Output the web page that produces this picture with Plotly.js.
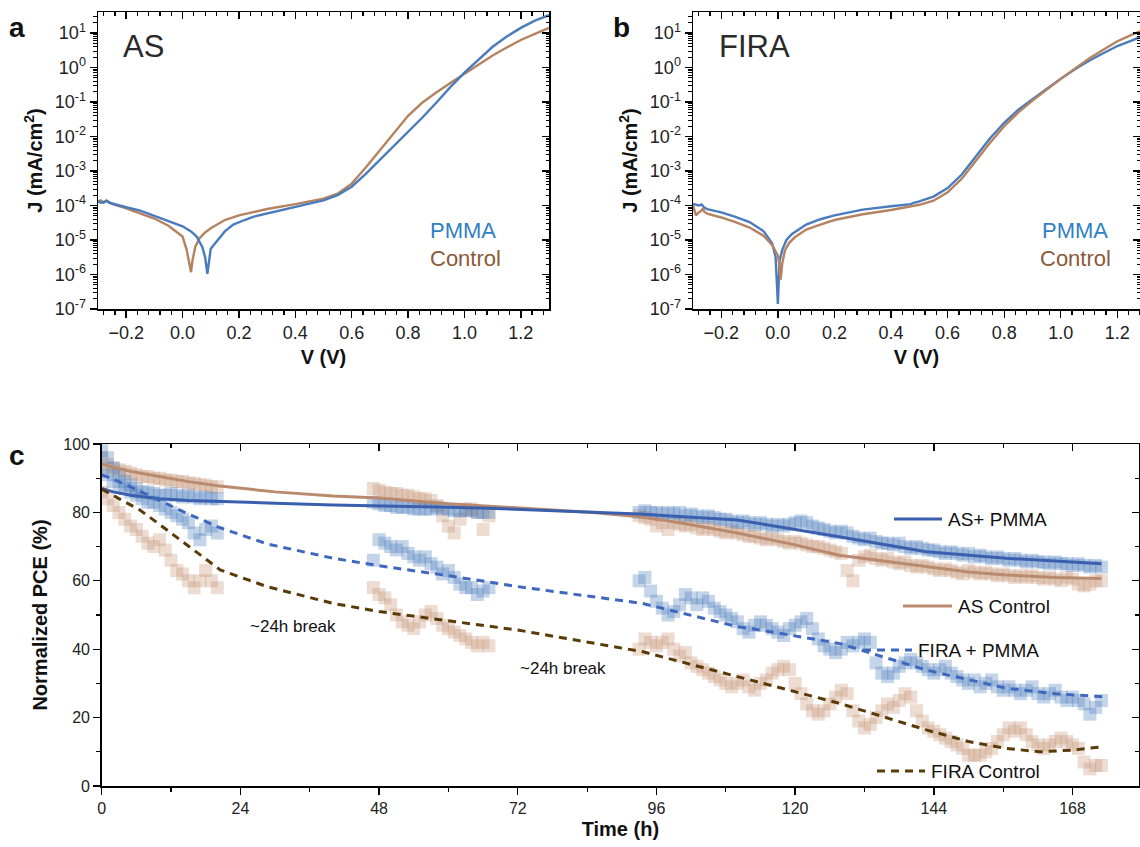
<!DOCTYPE html>
<html><head><meta charset="utf-8">
<script src="https://cdn.plot.ly/plotly-3.0.1.min.js"></script>
<style>html,body{margin:0;padding:0;background:#fff}#chart{width:1140px;height:847px}</style>
</head><body><div id="chart"></div>
<script>
// ---------- Panel a (AS) : J-V dark curves ----------
const aPmmaV = [-0.30,-0.29,-0.28,-0.27,-0.26,-0.25,-0.20,-0.15,-0.10,-0.05,0.00,0.03,0.05,0.07,0.08,0.088,0.095,0.10,0.12,0.15,0.18,0.20,0.22,0.25,0.30,0.40,0.50,0.55,0.60,0.65,0.70,0.75,0.80,0.85,0.90,0.95,1.00,1.05,1.10,1.15,1.20,1.25,1.30];
const aPmmaJ = [1.32e-4,1.2e-4,1.26e-4,1.38e-4,1.2e-4,1.15e-4,8.9e-5,7.1e-5,5.0e-5,3.6e-5,2.5e-5,1.78e-5,1.26e-5,6.3e-6,3.2e-6,1.05e-6,2.5e-6,5.6e-6,8.9e-6,1.78e-5,2.8e-5,3.3e-5,3.8e-5,4.7e-5,5.8e-5,8.9e-5,1.41e-4,2.0e-4,3.5e-4,8.3e-4,2.1e-3,5.2e-3,1.32e-2,3.5e-2,9.5e-2,0.27,0.71,1.74,4.0,7.9,14.1,22.9,33];
const aCtrlV = [-0.30,-0.29,-0.28,-0.27,-0.26,-0.25,-0.20,-0.15,-0.10,-0.05,0.00,0.015,0.025,0.03,0.035,0.045,0.06,0.08,0.10,0.15,0.20,0.30,0.40,0.50,0.55,0.60,0.65,0.70,0.75,0.80,0.85,0.90,0.95,1.00,1.05,1.10,1.15,1.20,1.25,1.30];
const aCtrlJ = [1.32e-4,1.41e-4,1.2e-4,1.38e-4,1.26e-4,1.12e-4,8.3e-5,6.0e-5,4.2e-5,2.6e-5,1.26e-5,5.0e-6,2.0e-6,1.17e-6,2.5e-6,6.3e-6,1.12e-5,1.66e-5,2.2e-5,3.8e-5,5.2e-5,7.9e-5,1.1e-4,1.58e-4,2.2e-4,4.3e-4,1.26e-3,4.0e-3,1.32e-2,4.0e-2,9.5e-2,0.19,0.355,0.66,1.2,2.24,3.8,6.3,9.5,14.1];

// ---------- Panel b (FIRA) ----------
const bPmmaV = [-0.30,-0.29,-0.28,-0.27,-0.26,-0.25,-0.20,-0.15,-0.10,-0.05,-0.02,-0.008,0.0,0.006,0.015,0.03,0.05,0.10,0.15,0.20,0.30,0.40,0.47,0.48,0.50,0.55,0.60,0.65,0.70,0.75,0.80,0.85,0.90,0.95,1.00,1.05,1.10,1.15,1.20,1.25,1.28];
const bPmmaJ = [1.12e-4,1.05e-4,1.0e-4,1.07e-4,8.7e-5,7.9e-5,6.3e-5,4.7e-5,3.3e-5,1.78e-5,7.9e-6,3.2e-6,1.4e-7,2.5e-6,5.0e-6,1.0e-5,1.5e-5,2.8e-5,4.0e-5,5.2e-5,7.6e-5,9.5e-5,1.1e-4,1.2e-4,1.32e-4,1.82e-4,3.2e-4,7.9e-4,2.6e-3,8.9e-3,2.5e-2,6.0e-2,0.12,0.24,0.47,0.89,1.58,2.6,4.2,6.0,7.6];
const bCtrlV = [-0.30,-0.295,-0.29,-0.28,-0.27,-0.265,-0.26,-0.25,-0.20,-0.15,-0.10,-0.05,-0.02,0.0,0.005,0.01,0.015,0.025,0.04,0.06,0.10,0.15,0.20,0.30,0.40,0.50,0.55,0.60,0.65,0.70,0.75,0.80,0.85,0.90,0.95,1.00,1.05,1.10,1.15,1.20,1.25,1.28];
const bCtrlJ = [1.05e-4,7.1e-5,5.2e-5,6.3e-5,7.1e-5,8.3e-5,6.6e-5,5.8e-5,4.5e-5,3.3e-5,2.3e-5,1.32e-5,7.1e-6,3.5e-6,2.0e-6,7.1e-7,2.0e-6,5.0e-6,8.3e-6,1.2e-5,2.0e-5,2.8e-5,3.8e-5,5.6e-5,7.4e-5,1.05e-4,1.38e-4,2.4e-4,6.0e-4,2.0e-3,6.6e-3,2.0e-2,5.0e-2,0.11,0.23,0.47,0.93,1.82,3.3,5.8,8.9,11.2];

const logTickVals = [1e-7,1e-6,1e-5,1e-4,1e-3,1e-2,1e-1,1,10];
const logTickText = ['10<sup>-7</sup>','10<sup>-6</sup>','10<sup>-5</sup>','10<sup>-4</sup>','10<sup>-3</sup>','10<sup>-2</sup>','10<sup>-1</sup>','10<sup>0</sup>','10<sup>1</sup>'];

// ---------- Panel c : stability ----------
// measured hours of the three test periods
function hours(a, b) { const r = []; for (let h = a; h <= b; h++) r.push(h); return r; }
const tSeg1 = hours(0, 20), tSeg2 = hours(47, 67), tSeg3 = hours(93, 173);

const asPmma1 = [98,96,93,91,89,88,87,86,86,85.5,85,85,85.5,85,84.5,85,84.5,84,84.5,84,84];
const asPmma2 = [83,82.5,82,82,81.5,81.5,81.5,81,81,81,81,81.5,81,81,80.5,80.5,80.5,80.5,80,80,80];
const asPmma3 = [80,80.5,80,80,79.5,80,79.5,80,79,79.5, 79,78.5,79,78.5,78,78,77.5,77,77.5,77, 76.5,77,76.5,76,76.5,76,76.5,77,77.5,77, 76,75.5,75,74.5,74,74.5,74,73,72.5,72, 72.5,71.5,71,71,70.5,71,70,69.5,70,69.5, 69,69,68.5,68,68.5,68,67.5,68,67,67.5, 67,66.5,67,66.5,66,66.5,66,65.5,66,65.5, 65.5,65,65.5,65,65,64.5,65,64.5,64,64.5, 64];

const asCtrl1 = [96,94,93,92.5,92,91.5,91,90.5,90.5,90,90,89.5,89.5,89,89,88.5,88.5,88,88,87.5,87.5];
const asCtrl2 = [87,86.5,86,85.5,85.5,85,85,84.5,84,84,83.5,82,79,76,74,78,81,81,80,75,79];
const asCtrl3 = [79,78.5,78,76,77,75,77,76.5,76,76.5, 75.5,75,75.5,75,74.5,74,74.5,74,73.5,73, 73,72.5,72,72.5,72,71.5,71,71.5,71,70.5, 70,70,69.5,69,68.5,68,63,60,66,67, 67.5,66.5,66,66.5,65.5,65,65.5,64.5,64,64.5, 64,63.5,63,63.5,63,62.5,62,63,62.5,62, 62.5,62,61.5,62,61.5,61,61.5,61,61.5,61, 60.5,61,60.5,60,61,60.5,59,58.5,59,60, 60];

const firaPmma1 = [92,91,89,88,87,86,85,84,83,83,82,81,80,79,78,77,74,72,75,76,74];
const firaPmma2 = [66,72,71,70,69,70,68,67,66,67,65,64,62,63,61,59,58,58,56,57,58];
const firaPmma3 = [60,61,57,54,52,50,51,53,56,55, 53,55,54,52,51,50,49,48,46,45, 47,48,47,46,45,44,46,47,48,49, 46,43,41,40,39,40,42,41,42,43, 42,36,33,32,33,35,36,37,36,35, 34,33,34,35,33,32,31,30,31,29, 30,31,29,28,29,28,27,28,29,27, 26,27,28,26,25,26,25,24,21,23, 25];

const firaCtrl1 = [86,84,82,80,78,76,75,73,71,70,72,69,66,63,62,60,58,60,63,60,58];
const firaCtrl2 = [58,56,55,53,50,48,47,46,48,50,51,49,47,46,45,44,43,42,41,42,41];
const firaCtrl3 = [40,43,42,41,42,43,40,38,39,36, 35,34,33,32,31,30,29,30,31,29, 28,30,31,33,34,35,34,30,27,24, 22,21,22,24,26,28,27,22,19,17, 18,20,22,24,23,25,27,26,22,19, 17,16,15,14,13,12,11,9,9,9, 10,11,13,15,17,16,17,15,13,12, 11,12,13,14,13,12,11,7,5,6, 6];

// fitted trend lines
const fitAsPmmaT = [0,2,5,10,15,20,30,40,48,60,67,93,100,110,120,127.6,142.7,156.5,165,173];
const fitAsPmmaV = [87,86,85,84,83.5,83.3,82.7,82.2,82,81.5,81.2,79.5,78.8,77.8,75,72.9,68.5,66.6,65.8,65];
const fitAsCtrlT = [0,5,10,15,20,30,40,48,60,72,85,93,100,110,120,127.6,142.7,150,156.5,165,173];
const fitAsCtrlV = [94.1,92,90.5,89,87.8,86,84.8,84.2,82.5,81.3,80,78.7,77,74,70.5,67.5,64.1,62.6,61.7,61,60.7];
const fitFiraPmmaT = [0,2,5,10,15,20.5,28.6,40,48,60,72,93.5,110,114,127.6,142.7,156.5,165,173.3];
const fitFiraPmmaV = [91,89.7,87.5,83.5,79.5,75.5,70.8,66.6,64.4,61.5,58.3,53.4,46.6,45.6,41.7,33.9,28.6,27,26.1];
const fitFiraCtrlT = [0,3,6.6,10,13.6,17,20.5,28.6,40,48,60,72,93.5,110,127.6,142.7,150,156.5,162.3,168,173.3];
const fitFiraCtrlV = [86.8,84,80.7,76.5,71.9,67.5,63.2,58.3,53.4,51,48.2,45.6,39.3,32,24.2,16.4,13,11,10,10.5,11.5];

// ---------- styles ----------
const W = 1140, H = 847;
const px = x => x / W, py = y => 1 - y / H;
const FONT = 'Liberation Sans, Arial, sans-serif';
const BLUE_JV = '#4a7bbd', BROWN_JV = '#b5835f';
const BLUE_SC = 'rgba(72,120,186,0.32)', TAN_SC = 'rgba(196,146,116,0.32)';
const C_ASP = '#3a5fae', C_ASC = '#b98a6e', C_FP = '#3f67bd', C_FC = '#5a3a06';

const allT = tSeg1.concat(tSeg2, tSeg3);
function sc(a, b, c, color) {
  return {x: allT, y: a.concat(b, c), xaxis: 'x3', yaxis: 'y3', type: 'scatter', mode: 'markers',
    marker: {symbol: 'square', size: 13, color: color, line: {width: 0}}, hoverinfo: 'skip', showlegend: false};
}
function ln(x, y, xa, ya, color, width, dash) {
  return {x: x, y: y, xaxis: xa, yaxis: ya, type: 'scatter', mode: 'lines',
    line: {color: color, width: width, dash: dash || 'solid'}, showlegend: false};
}

const traces = [
  ln(aCtrlV, aCtrlJ, 'x', 'y', BROWN_JV, 2.4),
  ln(aPmmaV, aPmmaJ, 'x', 'y', BLUE_JV, 2.4),
  ln(bPmmaV, bPmmaJ, 'x2', 'y2', BLUE_JV, 2.4),
  ln(bCtrlV, bCtrlJ, 'x2', 'y2', BROWN_JV, 2.4),
  sc(firaCtrl1, firaCtrl2, firaCtrl3, TAN_SC),
  sc(firaPmma1, firaPmma2, firaPmma3, BLUE_SC),
  sc(asCtrl1, asCtrl2, asCtrl3, TAN_SC),
  sc(asPmma1, asPmma2, asPmma3, BLUE_SC),
  ln(fitAsCtrlT, fitAsCtrlV, 'x3', 'y3', C_ASC, 3),
  ln(fitAsPmmaT, fitAsPmmaV, 'x3', 'y3', C_ASP, 3),
  ln(fitFiraPmmaT, fitFiraPmmaV, 'x3', 'y3', C_FP, 3, '8px,6px'),
  ln(fitFiraCtrlT, fitFiraCtrlV, 'x3', 'y3', C_FC, 3, '8px,6px'),
  // carriers for the inward-ticked top / right frame axes
  {x: [], y: [], xaxis: 'x4', yaxis: 'y4', type: 'scatter', showlegend: false},
  {x: [], y: [], xaxis: 'x5', yaxis: 'y5', type: 'scatter', showlegend: false},
  {x: [], y: [], xaxis: 'x6', yaxis: 'y6', type: 'scatter', showlegend: false}
];

const minorLog = [];
for (let e = -7; e <= 1; e++) for (let k = 2; k <= 9; k++) { const v = k * Math.pow(10, e); if (v < 40) minorLog.push(v); }

const base = {showline: true, linecolor: '#000', linewidth: 1.5, mirror: true, showgrid: false, zeroline: false,
  ticks: 'outside', ticklen: 7, tickwidth: 1.4, tickcolor: '#000', tickfont: {family: FONT, size: 18, color: '#222'}};
const titleFont = {family: FONT, size: 20, color: '#111'};

const dA = [px(98), px(549)], dB = [px(693), 1], dC = [px(101.7), px(1139)];
const yAB = [py(309), py(12)], yC = [py(786), py(444)];
const rJV_a = [-0.3, 1.3], rJV_b = [-0.3, 1.28], rLog = [-7, 1.61];

function vAxis(dom, rng, anchor) {
  return Object.assign({}, base, {domain: dom, range: rng, anchor: anchor, tickmode: 'linear', tick0: 0, dtick: 0.2,
    tickformat: '.1f', minor: {ticks: 'outside', ticklen: 4, tickwidth: 1.2, tickcolor: '#000', dtick: 0.04, tick0: 0},
    title: {text: '<b>V (V)</b>', font: titleFont, standoff: 8}});
}
function jAxis(dom, anchor) {
  return Object.assign({}, base, {domain: dom, range: rLog, type: 'log', anchor: anchor, tickmode: 'array',
    tickvals: logTickVals, ticktext: logTickText,
    minor: {ticks: 'outside', ticklen: 3.5, tickwidth: 1, tickcolor: '#000', tickvals: minorLog},
    title: {text: '<b>J (mA/cm<sup>2</sup>)</b>', font: titleFont, standoff: 6}});
}
const inside = {showline: false, showgrid: false, zeroline: false, showticklabels: false, ticks: 'inside', ticklen: 7, tickwidth: 1.4, tickcolor: '#000'};

const layout = {
  width: W, height: H, margin: {l: 0, r: 0, t: 0, b: 0}, paper_bgcolor: '#fff', plot_bgcolor: '#fff',
  font: {family: FONT, color: '#222'}, showlegend: false,
  xaxis: vAxis(dA, rJV_a, 'y'),
  yaxis: jAxis(yAB, 'x'),
  xaxis2: vAxis(dB, rJV_b, 'y2'),
  yaxis2: jAxis(yAB, 'x2'),
  xaxis3: Object.assign({}, base, {domain: dC, range: [0, 179.5], anchor: 'y3', tickmode: 'linear', tick0: 0, dtick: 24,
    tickfont: {family: FONT, size: 16, color: '#222'},
    minor: {ticks: 'outside', ticklen: 4, tickwidth: 1.2, tickcolor: '#000', dtick: 12, tick0: 0},
    title: {text: '<b>Time (h)</b>', font: titleFont, standoff: 6}}),
  yaxis3: Object.assign({}, base, {domain: yC, range: [0, 100], anchor: 'x3', tickmode: 'linear', tick0: 0, dtick: 20,
    tickfont: {family: FONT, size: 16, color: '#222'},
    minor: {ticks: 'outside', ticklen: 4, tickwidth: 1.2, tickcolor: '#000', dtick: 10, tick0: 0},
    title: {text: '<b>Normalized PCE (%)</b>', font: titleFont, standoff: 10}}),
  // inward ticks on top and right frame edges
  xaxis4: Object.assign({}, inside, {overlaying: 'x', anchor: 'y', side: 'top', range: rJV_a, tickmode: 'linear', tick0: 0, dtick: 0.2,
    minor: {ticks: 'inside', ticklen: 4, tickwidth: 1.2, tickcolor: '#000', dtick: 0.04, tick0: 0}}),
  yaxis4: Object.assign({}, inside, {overlaying: 'y', anchor: 'x', side: 'right', type: 'log', range: rLog, tickmode: 'array', tickvals: logTickVals,
    minor: {ticks: 'inside', ticklen: 3.5, tickwidth: 1, tickcolor: '#000', tickvals: minorLog}}),
  xaxis5: Object.assign({}, inside, {overlaying: 'x2', anchor: 'y2', side: 'top', range: rJV_b, tickmode: 'linear', tick0: 0, dtick: 0.2,
    minor: {ticks: 'inside', ticklen: 4, tickwidth: 1.2, tickcolor: '#000', dtick: 0.04, tick0: 0}}),
  yaxis5: Object.assign({}, inside, {overlaying: 'y2', anchor: 'x2', side: 'right', type: 'log', range: rLog, tickmode: 'array', tickvals: logTickVals,
    minor: {ticks: 'inside', ticklen: 3.5, tickwidth: 1, tickcolor: '#000', tickvals: minorLog}}),
  xaxis6: Object.assign({}, inside, {overlaying: 'x3', anchor: 'y3', side: 'top', range: [0, 179.5], tickmode: 'linear', tick0: 0, dtick: 24,
    minor: {ticks: 'inside', ticklen: 4, tickwidth: 1.2, tickcolor: '#000', dtick: 12, tick0: 0}}),
  yaxis6: Object.assign({}, inside, {overlaying: 'y3', anchor: 'x3', side: 'right', range: [0, 100], tickmode: 'linear', tick0: 0, dtick: 20,
    minor: {ticks: 'inside', ticklen: 4, tickwidth: 1.2, tickcolor: '#000', dtick: 10, tick0: 0}}),
  annotations: [],
  shapes: []
};

function txt(text, x, y, size, color, opts) {
  layout.annotations.push(Object.assign({text: text, x: px(x), y: py(y), xref: 'paper', yref: 'paper', showarrow: false,
    xanchor: 'center', yanchor: 'middle', font: {family: FONT, size: size, color: color}}, opts || {}));
}
txt('<b>a</b>', 17, 27, 28, '#111');
txt('<b>b</b>', 621, 27, 28, '#111');
txt('<b>c</b>', 17, 455, 28, '#111');
txt('AS', 143, 47, 31, '#2a2a2a');
txt('FIRA', 755, 47, 31, '#2a2a2a');
txt('PMMA', 428, 231, 22, '#2f7fc4', {xanchor: 'left'});
txt('Control', 428, 258, 22, '#8c5a38', {xanchor: 'left'});
txt('PMMA', 1040, 231, 22, '#2f7fc4', {xanchor: 'left'});
txt('Control', 1038, 258, 22, '#8c5a38', {xanchor: 'left'});
txt('~24h break', 292.5, 626, 17, '#111');
txt('~24h break', 562.5, 668, 17, '#111');

// panel c key
const keys = [
  ['AS+ PMMA', 894, 942, 519, 946, C_ASP, 'solid'],
  ['AS Control', 903, 952, 606, 956, C_ASC, 'solid'],
  ['FIRA + PMMA', 863, 912, 650, 916, C_FP, 'dash'],
  ['FIRA Control', 877, 925, 771, 929, C_FC, 'dash']
];
keys.forEach(k => {
  layout.shapes.push({type: 'line', xref: 'paper', yref: 'paper', x0: px(k[1]), x1: px(k[2]), y0: py(k[3]), y1: py(k[3]),
    line: {color: k[5], width: 3, dash: k[6] === 'dash' ? '8px,6px' : 'solid'}});
  txt(k[0], k[4], k[3], 19, '#111', {xanchor: 'left'});
});

Plotly.newPlot('chart', traces, layout, {displayModeBar: false, staticPlot: true});
</script></body></html>
